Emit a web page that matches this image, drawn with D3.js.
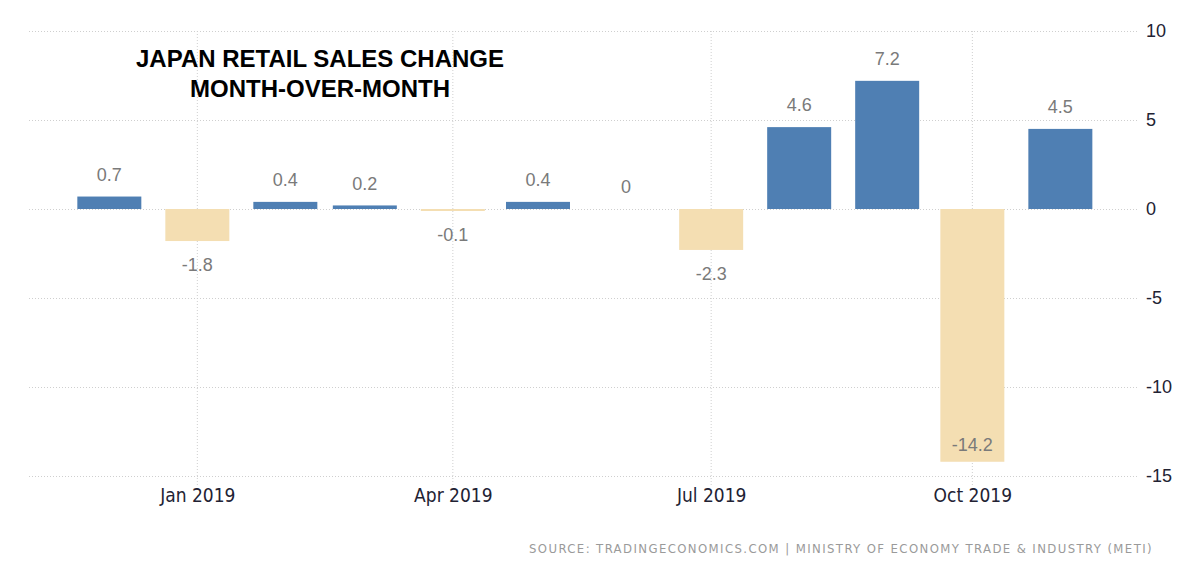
<!DOCTYPE html>
<html>
<head>
<meta charset="utf-8">
<script src="https://cdn.jsdelivr.net/npm/d3@7"></script>
<style>
    body { margin: 0; background: #fff; }
    svg { display: block; }
</style>
</head>
<body>
<div id="chart"></div>
<script>
// months shown, one bar each
const months = ["2018-12", "2019-01", "2019-02", "2019-03", "2019-04", "2019-05",
    "2019-06", "2019-07", "2019-08", "2019-09", "2019-10", "2019-11"];
const values = [0.7, -1.8, 0.4, 0.2, -0.1, 0.4, 0, -2.3, 4.6, 7.2, -14.2, 4.5];
const valueLabels = ["0.7", "-1.8", "0.4", "0.2", "-0.1", "0.4", "0", "-2.3", "4.6", "7.2", "-14.2", "4.5"];
const yTicks = [10, 5, 0, -5, -10, -15];
const xTickMonths = ["2019-01", "2019-04", "2019-07", "2019-10"];
const titleLines = ["JAPAN RETAIL SALES CHANGE", "MONTH-OVER-MONTH"];
const sourceText = "SOURCE: TRADINGECONOMICS.COM | MINISTRY OF ECONOMY TRADE & INDUSTRY (METI)";

document.addEventListener("DOMContentLoaded", function () {
    createChart("chart");
});

function parseMonth(s) {
    const [y, m] = s.split("-").map(Number);
    return new Date(y, m - 1, 1);
}

function createChart(elementId) {
    const width = 1200;
    const height = 576;
    const plot = { left: 27, right: 1137, top: 31, bottom: 476 };

    const svg = d3.select(`#${elementId}`).append("svg")
        .attr("width", width)
        .attr("height", height);

    const x = d3.scaleTime()
        .domain([new Date(2018, 10, 2), new Date(2019, 10, 28)])
        .range([plot.left, plot.right]);

    const y = d3.scaleLinear()
        .domain([-15, 10])
        .range([plot.bottom, plot.top]);

    const barWidth = 64;
    const data = months.map((m, i) => ({ date: parseMonth(m), value: values[i], label: valueLabels[i] }));

    // horizontal grid + right axis labels
    const yAxis = svg.append("g")
        .attr("transform", `translate(${plot.right}, 0)`)
        .call(d3.axisRight(y).tickValues(yTicks).tickSize(-(plot.right - plot.left)).tickPadding(9).tickFormat(d => String(d)));
    yAxis.select(".domain").remove();
    yAxis.selectAll(".tick line")
        .attr("stroke", "#cfcfcf")
        .attr("stroke-dasharray", "1,2");
    yAxis.selectAll(".tick text")
        .attr("fill", "#222233")
        .style("font-family", "'Liberation Sans', Arial, sans-serif")
        .style("font-size", "18px");

    // vertical grid lines at quarter months
    svg.append("g")
        .selectAll("line")
        .data(xTickMonths)
        .enter().append("line")
        .attr("x1", d => x(parseMonth(d)))
        .attr("x2", d => x(parseMonth(d)))
        .attr("y1", plot.top)
        .attr("y2", plot.bottom + 9)
        .attr("stroke", "#cfcfcf")
        .attr("stroke-dasharray", "1,2");

    const xAxis = svg.append("g")
        .attr("transform", `translate(0, ${plot.bottom})`)
        .call(d3.axisBottom(x).tickValues(xTickMonths.map(parseMonth)).tickSize(0).tickPadding(13).tickFormat(d3.timeFormat("%b %Y")));
    xAxis.select(".domain").remove();
    xAxis.selectAll(".tick text")
        .attr("fill", "#222233")
        .style("font-family", "'DejaVu Sans Condensed', 'DejaVu Sans', sans-serif")
        .style("font-size", "19px");

    // bars
    svg.append("g")
        .selectAll("rect")
        .data(data)
        .enter().append("rect")
        .attr("x", d => x(d.date) - barWidth / 2)
        .attr("y", d => y(Math.max(0, d.value)))
        .attr("width", barWidth)
        .attr("height", d => Math.max(Math.abs(y(d.value) - y(0)), d.value === 0 ? 0 : 2))
        .attr("fill", d => d.value >= 0 ? "#4f7fb3" : "#f4deb2");

    // value labels
    svg.append("g")
        .selectAll("text")
        .data(data)
        .enter().append("text")
        .attr("x", d => x(d.date))
        .attr("y", d => {
            if (d.value >= 0) return y(d.value) - 22;
            const below = y(d.value) + 24;
            return below > plot.bottom - 10 ? y(d.value) - 17 : below;
        })
        .attr("dy", "0.35em")
        .attr("text-anchor", "middle")
        .attr("fill", "#7a7a7a")
        .style("font-family", "'Liberation Sans', Arial, sans-serif")
        .style("font-size", "18px")
        .text(d => d.label);

    // title
    svg.append("g")
        .selectAll("text")
        .data(titleLines)
        .enter().append("text")
        .attr("x", 320)
        .attr("y", (d, i) => 67 + i * 30)
        .attr("text-anchor", "middle")
        .attr("fill", "#000")
        .style("font-family", "'Liberation Sans', Arial, sans-serif")
        .style("font-weight", "bold")
        .style("font-size", "24px")
        .text(d => d);

    // source
    svg.append("text")
        .attr("x", 1153)
        .attr("y", 553)
        .attr("text-anchor", "end")
        .attr("fill", "#9a9a9a")
        .style("font-family", "'DejaVu Sans Condensed', 'DejaVu Sans', sans-serif")
        .style("font-size", "13px")
        .style("letter-spacing", "1.4px")
        .text(sourceText);
}
</script>
</body>
</html>
